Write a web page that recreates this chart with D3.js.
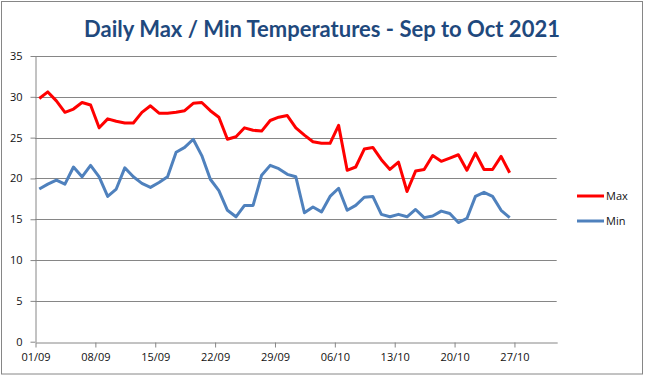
<!DOCTYPE html>
<html>
<head>
<meta charset="utf-8">
<script src="https://cdn.jsdelivr.net/npm/d3@7"></script>
<style>
  body { margin: 0; background: #fff; }
  svg { display: block; }
  .axis text { font-family: "Open Sans", "DejaVu Sans", sans-serif; font-size: 11px; fill: #111; }
</style>
</head>
<body>
<svg id="chart" width="645" height="377"></svg>
<script>
// daily readings, 01/09/2021 .. 26/10/2021
const startDate = "2021-09-01";
const maxTemps = [29.8,30.6,29.5,28.1,28.5,29.3,29.0,26.2,27.3,27.0,
  26.8,26.8,28.1,28.9,28.0,28.0,28.1,28.3,29.2,29.3,
  28.3,27.5,24.8,25.1,26.2,25.9,25.8,27.1,27.5,27.7,
  26.2,25.3,24.5,24.3,24.3,26.5,21.0,21.4,23.6,23.8,
  22.3,21.1,22.0,18.4,20.9,21.1,22.8,22.1,22.5,22.9,
  21.0,23.1,21.1,21.1,22.7,20.7];
const minTemps = [18.7,19.3,19.8,19.3,21.4,20.2,21.6,20.2,17.8,18.7,
  21.3,20.2,19.4,18.9,19.5,20.2,23.2,23.8,24.8,22.8,
  19.9,18.5,16.1,15.3,16.7,16.7,20.4,21.6,21.2,20.5,
  20.2,15.8,16.5,15.9,17.8,18.8,16.1,16.7,17.7,17.8,
  15.6,15.3,15.6,15.3,16.2,15.2,15.4,16.0,15.7,14.6,
  15.1,17.8,18.3,17.8,16.1,15.2];
const xTickLabels = ["01/09","08/09","15/09","22/09","29/09","06/10","13/10","20/10","27/10"];
const yTicks = [0,5,10,15,20,25,30,35];
const seriesNames = ["Max","Min"];
const seriesColors = ["#ff0000","#4f81bd"];

const svg = d3.select("#chart");

// outer frame
svg.append("rect")
  .attr("x", 1.5).attr("y", 1.5)
  .attr("width", 641).attr("height", 372.5)
  .attr("fill", "#fff")
  .attr("stroke", "#868686");

svg.append("text")
  .attr("x", 322).attr("y", 37)
  .attr("text-anchor", "middle")
  .attr("font-family", "Lato, 'Open Sans', sans-serif")
  .attr("font-weight", "bold")
  .attr("font-size", 22)
  .attr("fill", "#1f497d")
  .text("Daily Max / Min Temperatures - Sep to Oct 2021");

const t0 = d3.utcParse("%Y-%m-%d")(startDate);
const dates = maxTemps.map((d, i) => d3.utcHour.offset(d3.utcDay.offset(t0, i), 12));

const x = d3.scaleUtc()
  .domain([t0, d3.utcMonth.offset(t0, 2)])
  .range([35, 556.7]);
const y = d3.scaleLinear()
  .domain([0, 35])
  .range([341.7, 56]);

// gridlines
svg.append("g")
  .selectAll("line")
  .data(yTicks.slice(1))
  .enter()
  .append("line")
  .attr("x1", 35).attr("x2", 556.7)
  .attr("y1", d => Math.round(y(d)) + 0.5)
  .attr("y2", d => Math.round(y(d)) + 0.5)
  .attr("stroke", "#868686");

const tickDates = xTickLabels.map((d, i) => d3.utcDay.offset(t0, i * 7));

const xAxis = d3.axisBottom(x)
  .tickValues(tickDates)
  .tickFormat((d, i) => xTickLabels[i])
  .tickSize(5)
  .tickSizeOuter(0)
  .tickPadding(6);
const gx = svg.append("g")
  .attr("class", "axis")
  .attr("transform", `translate(0.5,${Math.round(y(0)) + 0.5})`)
  .call(xAxis);

const yAxis = d3.axisLeft(y)
  .tickValues(yTicks)
  .tickSize(5)
  .tickSizeOuter(0)
  .tickPadding(8);
const gy = svg.append("g")
  .attr("class", "axis")
  .attr("transform", "translate(35.5,0)")
  .call(yAxis);

svg.selectAll(".axis path, .axis line").attr("stroke", "#868686");

// lines
const line = d3.line()
  .x((d, i) => x(dates[i]))
  .y(d => y(d));

[maxTemps, minTemps].forEach((series, k) => {
  svg.append("path")
    .datum(series)
    .attr("fill", "none")
    .attr("stroke", seriesColors[k])
    .attr("stroke-width", 3)
    .attr("stroke-linejoin", "round")
    .attr("d", line);
});

// legend
const legend = svg.append("g");
seriesNames.forEach((name, k) => {
  const ly = 196 + k * 25;
  legend.append("line")
    .attr("x1", 577).attr("x2", 604)
    .attr("y1", ly).attr("y2", ly)
    .attr("stroke", seriesColors[k])
    .attr("stroke-width", 3);
  legend.append("text")
    .attr("x", 606).attr("y", ly + 4)
    .attr("font-family", "'Open Sans', 'DejaVu Sans', sans-serif")
    .attr("font-size", 11)
    .attr("fill", "#111")
    .text(name);
});
</script>
</body>
</html>
